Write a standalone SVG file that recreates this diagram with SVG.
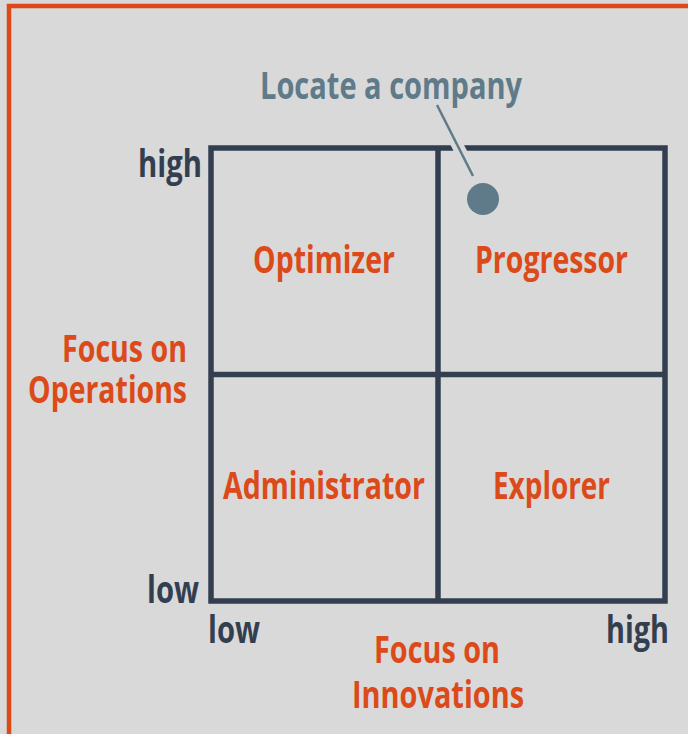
<svg xmlns="http://www.w3.org/2000/svg" width="688" height="734" viewBox="0 0 688 734">
<style>
  text { font-family: "Open Sans", "Liberation Sans", sans-serif; font-weight: 700; font-size: 38px; }
  .axis { fill: #333f50; }
  .orange { fill: #dc4a19; }
  .note { fill: #5f7b89; }
  .grid { fill: none; stroke: #333f50; stroke-width: 5.5; }
</style>
<rect x="0" y="0" width="688" height="734" fill="#d9d9d9"/>
<rect x="9" y="6" width="700" height="760" fill="none" stroke="#dc4a19" stroke-width="4.5"/>

<g id="grid">
  <rect class="grid" x="211" y="148" width="454" height="453"/>
  <line class="grid" x1="438" y1="148" x2="438" y2="601"/>
  <line class="grid" x1="211" y1="374.5" x2="665" y2="374.5"/>
</g>

<g id="connectors">
  <line x1="437" y1="105" x2="473" y2="176" stroke="#d9d9d9" stroke-width="12"/>
  <line x1="437" y1="105" x2="473" y2="176" stroke="#5f7b89" stroke-width="2.5"/>
</g>

<g id="company-dot">
  <circle cx="483" cy="199" r="16" fill="#5f7b89"/>
</g>

<g id="locate-label">
  <text class="note" x="260" y="99" textLength="262" lengthAdjust="spacingAndGlyphs">Locate a company</text>
</g>

<g id="optimizer"><text class="orange" x="253" y="273" textLength="142" lengthAdjust="spacingAndGlyphs">Optimizer</text></g>
<g id="progressor"><text class="orange" x="475" y="273" textLength="153" lengthAdjust="spacingAndGlyphs">Progressor</text></g>
<g id="administrator"><text class="orange" x="223" y="499" textLength="202" lengthAdjust="spacingAndGlyphs">Administrator</text></g>
<g id="explorer"><text class="orange" x="493" y="499" textLength="117" lengthAdjust="spacingAndGlyphs">Explorer</text></g>

<g id="y-axis-labels">
  <text class="axis" x="138" y="177" textLength="64" lengthAdjust="spacingAndGlyphs">high</text>
  <text class="axis" x="147" y="603" textLength="52" lengthAdjust="spacingAndGlyphs">low</text>
  <text class="orange" x="62" y="362" textLength="125" lengthAdjust="spacingAndGlyphs">Focus on</text>
  <text class="orange" x="28" y="403" textLength="159" lengthAdjust="spacingAndGlyphs">Operations</text>
</g>

<g id="x-axis-labels">
  <text class="axis" x="208" y="643" textLength="52" lengthAdjust="spacingAndGlyphs">low</text>
  <text class="axis" x="606" y="643" textLength="63" lengthAdjust="spacingAndGlyphs">high</text>
  <text class="orange" x="374" y="663" textLength="126" lengthAdjust="spacingAndGlyphs">Focus on</text>
  <text class="orange" x="352" y="708" textLength="172" lengthAdjust="spacingAndGlyphs">Innovations</text>
</g>
</svg>
